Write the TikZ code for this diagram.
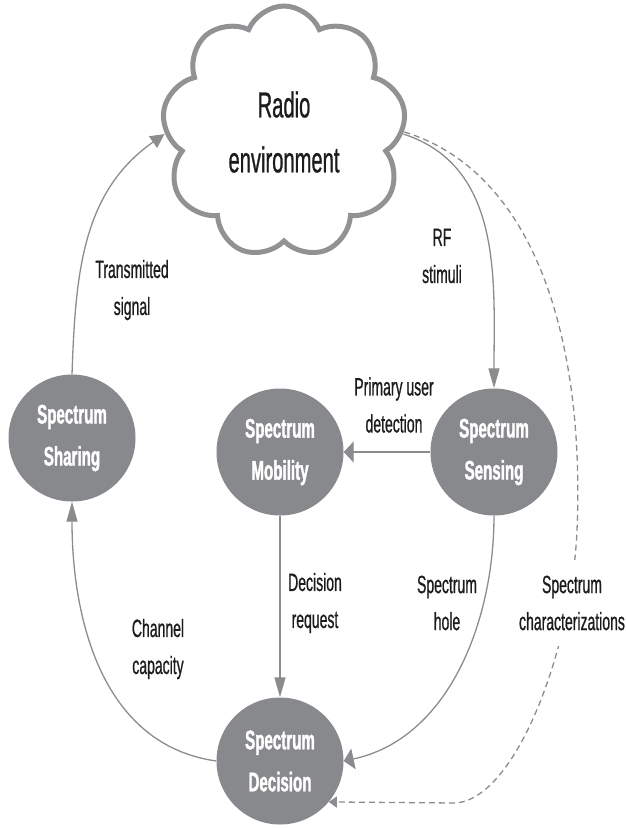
\documentclass[tikz,border=0pt]{standalone}
\usepackage{fontspec}
\setmainfont[FakeStretch=0.56, UprightFeatures={FakeBold=0.7}, BoldFeatures={FakeBold=1.3}]{Liberation Sans}
\usetikzlibrary{shapes.symbols,arrows.meta}
\definecolor{nodegray}{RGB}{136,137,141}
\definecolor{linegray}{RGB}{140,140,143}
\definecolor{cloudgray}{RGB}{146,146,149}
\definecolor{txt}{RGB}{28,28,28}
\begin{document}
\begin{tikzpicture}[x=1pt,y=1pt,
  stage/.style={circle, fill=nodegray, minimum size=127pt, inner sep=0pt, text=white,
    font=\fontsize{27}{42}\selectfont\bfseries, align=center},
  lbl/.style={text=txt, font=\fontsize{25}{37}\selectfont, align=center, inner sep=1pt},
  conn/.style={draw=linegray, line width=1.3pt},
  vtip/.style={-{Triangle[length=20pt,width=11pt]}},
  htip/.style={-{Triangle[length=10pt,width=21pt]}},
  dtip/.style={-{Triangle[length=14pt,width=14pt]}},
  stip/.style={-{Triangle[length=8pt,width=11pt]}},
  envcloud/.style={cloud, draw=cloudgray, line width=5pt, cloud puffs=9, cloud puff arc=135,
    cloud ignores aspect, minimum width=244pt, minimum height=252pt, inner sep=0pt,
    text=txt, font=\fontsize{36}{55}\selectfont, align=center}
]
\useasboundingbox (0,0) rectangle (625,-828);

\node[envcloud, shape border rotate=10] (cloud) at (284,-132) {Radio\\environment};

\node[stage] (share) at (72,-438) {Spectrum\\Sharing};
\node[stage] (mob) at (280,-452) {Spectrum\\Mobility};
\node[stage] (sense) at (494,-452) {Spectrum\\Sensing};
\node[stage] (dec) at (280,-761) {Spectrum\\Decision};

% connectors
\draw[conn, dtip] (share.north) to[out=88, in=215] (cloud.181);
\draw[conn, vtip] (cloud.-1) to[out=-18, in=90] (sense.north);
\draw[conn, htip] (sense.west) -- (mob.east);
\draw[conn, vtip] (mob.south) -- (dec.north);
\draw[conn, htip] (sense.south) to[out=-90, in=12, looseness=0.95] (dec.east);
\draw[conn, vtip] (dec.west) to[out=172, in=-90] (share.south);
\draw[conn, stip, dash pattern=on 6pt off 4pt] (cloud.0) .. controls (535,-172) and (585,-340) .. (577,-530)
  .. controls (572,-650) and (515,-800) .. (455,-803) -- (dec.-40);

% labels
\node[lbl] (l1) at (132,-290) {Transmitted\\signal};
\node[lbl] (l2) at (442,-256) {RF\\stimuli};
\node[lbl] (l3) at (394,-405) {Primary user\\detection};
\node[lbl] (l4) at (315,-603) {Decision\\request};
\node[lbl] (l5) at (447,-603) {Spectrum\\hole};
\node[lbl, fill=white, inner ysep=16pt] (l6) at (572,-603) {Spectrum\\characterizations};
\node[lbl] (l7) at (158,-649) {Channel\\capacity};
\end{tikzpicture}
\end{document}
